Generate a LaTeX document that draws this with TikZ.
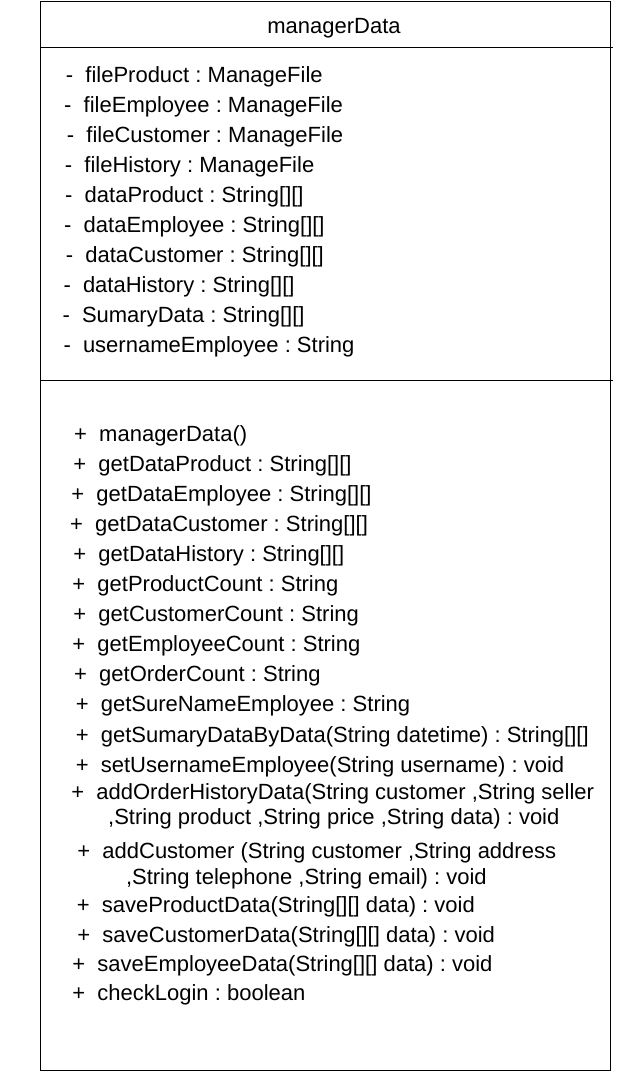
\documentclass[tikz,border=0pt]{standalone}
\usepackage{fontspec}
\setmainfont{Liberation Sans}
\frenchspacing
\begin{document}
\begin{tikzpicture}[x=1pt,y=-1pt,
  txt/.style={anchor=base west, inner sep=0pt, font=\fontsize{22}{26}\selectfont},
  ttl/.style={anchor=base, inner sep=0pt, font=\fontsize{22}{26}\selectfont},
  frame/.style={draw=black, line width=1pt},
  sep/.style={draw=black, line width=1pt}]
\useasboundingbox (0,0) rectangle (620,1072);
\draw[frame] (40,1) rectangle (610,1070);
\coordinate (s1l) at (40,47);
\coordinate (s1r) at (613,47);
\coordinate (s2l) at (40,380.5);
\coordinate (s2r) at (613,380.5);
\draw[sep] (s1l) -- (s1r);
\draw[sep] (s2l) -- (s2r);
\node[ttl] (title) at (334,33.5) {managerData};
% attributes
\newcommand{\attr}[4]{\node[txt] (#1) at (#2,#3) {-\hspace{12.2pt}#4};}
\attr{a1}{65.7}{82}{fileProduct : ManageFile}
\attr{a2}{64}{112}{fileEmployee : ManageFile}
\attr{a3}{66.7}{142}{fileCustomer : ManageFile}
\attr{a4}{64.7}{172}{fileHistory : ManageFile}
\attr{a5}{65}{202}{dataProduct : String[][]}
\attr{a6}{64}{232}{dataEmployee : String[][]}
\attr{a7}{65.7}{262}{dataCustomer : String[][]}
\attr{a8}{63.3}{292}{dataHistory : String[][]}
\attr{a9}{62.3}{322}{SumaryData : String[][]}
\attr{a10}{63.3}{352}{usernameEmployee : String}
% methods
\newcommand{\meth}[4]{\node[txt] (#1) at (#2,#3) {+\hspace{12.2pt}#4};}
\meth{m1}{74}{441}{managerData()}
\meth{m2}{73.2}{471}{getDataProduct : String[][]}
\meth{m3}{71.2}{501}{getDataEmployee : String[][]}
\meth{m4}{70}{531}{getDataCustomer : String[][]}
\meth{m5}{73.2}{561}{getDataHistory : String[][]}
\meth{m6}{72.2}{591.5}{getProductCount : String}
\meth{m7}{73.2}{621.5}{getCustomerCount : String}
\meth{m8}{72.2}{651.5}{getEmployeeCount : String}
\meth{m9}{74}{681.5}{getOrderCount : String}
\meth{m10}{75.6}{711.5}{getSureNameEmployee : String}
\meth{m11}{75.6}{742.5}{getSumaryDataByData(String datetime) : String[][]}
\meth{m12}{75.6}{772.5}{setUsernameEmployee(String username) : void}
\meth{m13}{71.2}{799.5}{addOrderHistoryData(String customer ,String seller}
\node[txt] (m13b) at (108,824.5) {,String product ,String price ,String data) : void};
\meth{m14}{77.2}{858.5}{addCustomer (String customer ,String address}
\node[txt] (m14b) at (125.8,884.5) {,String telephone ,String email) : void};
\meth{m15}{76.6}{912.5}{saveProductData(String[][] data) : void}
\meth{m16}{77.2}{942.5}{saveCustomerData(String[][] data) : void}
\meth{m17}{72.2}{971.5}{saveEmployeeData(String[][] data) : void}
\meth{m18}{72.2}{1000.5}{checkLogin : boolean}
\end{tikzpicture}
\end{document}
